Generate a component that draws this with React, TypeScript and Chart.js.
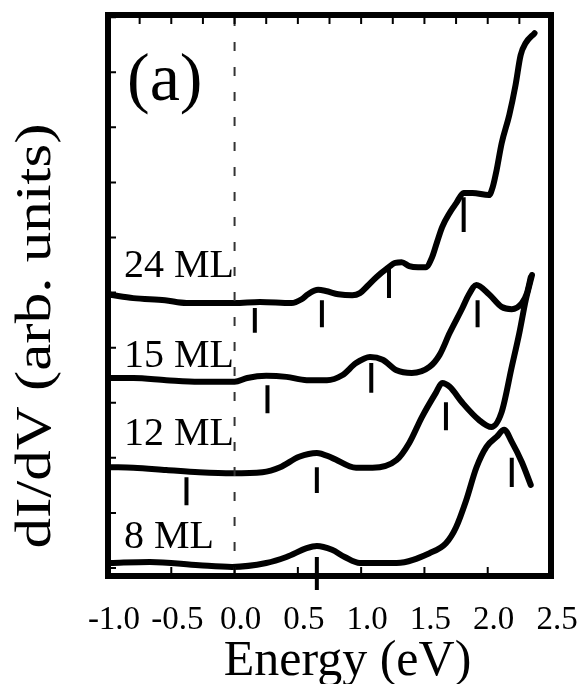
import React, { useEffect, useRef } from 'react';
import { Chart, registerables } from 'chart.js';

Chart.register(...registerables);

const SERIF = "'Liberation Serif', 'Times New Roman', serif";

// Energy axis (eV)
const energyTicks = [-1.0, -0.5, 0.0, 0.5, 1.0, 1.5, 2.0, 2.5];

// Film thickness for each spectrum, top to bottom
const films = ['24 ML', '15 ML', '12 ML', '8 ML'];

// dI/dV spectra, offset vertically: [energy (eV), dI/dV (arb. units)]
const ml24: [number, number][] = [
  [-0.98, 4.96], [-0.8, 4.9], [-0.55, 4.86], [-0.38, 4.81], [0.0, 4.81], [0.2, 4.83],
  [0.45, 4.81], [0.53, 4.88], [0.58, 4.97], [0.66, 5.05], [0.72, 5.03], [0.82, 4.97],
  [0.93, 4.95], [0.99, 4.99], [1.05, 5.12], [1.12, 5.28], [1.2, 5.43], [1.27, 5.54],
  [1.32, 5.55], [1.38, 5.48], [1.45, 5.46], [1.51, 5.46], [1.56, 5.64], [1.6, 5.92],
  [1.64, 6.19], [1.7, 6.45], [1.75, 6.62], [1.81, 6.81], [1.88, 6.81], [2.01, 6.77],
  [2.04, 6.92], [2.07, 7.22], [2.11, 7.71], [2.17, 8.22], [2.22, 8.77], [2.26, 9.31],
  [2.3, 9.53], [2.37, 9.71],
];

const ml15: [number, number][] = [
  [-0.98, 3.45], [-0.8, 3.45], [-0.54, 3.41], [-0.28, 3.38], [0.0, 3.38], [0.1, 3.45],
  [0.25, 3.49], [0.41, 3.47], [0.57, 3.41], [0.73, 3.41], [0.85, 3.5], [0.96, 3.72],
  [1.07, 3.83], [1.17, 3.78], [1.28, 3.59], [1.4, 3.54], [1.54, 3.65], [1.62, 3.87],
  [1.7, 4.27], [1.8, 4.72], [1.85, 4.96], [1.91, 5.14], [2.01, 4.97], [2.11, 4.74],
  [2.19, 4.7], [2.27, 4.81], [2.31, 4.99], [2.34, 5.28],
];

const ml12: [number, number][] = [
  [-0.98, 1.83], [-0.8, 1.82], [-0.54, 1.78], [-0.28, 1.74], [-0.02, 1.72], [0.22, 1.74],
  [0.36, 1.83], [0.51, 2.02], [0.65, 2.09], [0.77, 2.0], [0.96, 1.82], [1.09, 1.82],
  [1.28, 1.96], [1.38, 2.27], [1.48, 2.74], [1.59, 3.18], [1.64, 3.36], [1.7, 3.29],
  [1.8, 3.0], [1.93, 2.69], [2.03, 2.56], [2.11, 2.83], [2.19, 3.65], [2.25, 4.27],
  [2.3, 4.86], [2.35, 5.32],
];

const ml8: [number, number][] = [
  [-0.98, 0.09], [-0.67, 0.11], [-0.28, 0.05], [-0.02, 0.02], [0.25, 0.09], [0.41, 0.2],
  [0.57, 0.36], [0.65, 0.4], [0.77, 0.33], [0.87, 0.2], [0.99, 0.09], [1.28, 0.09],
  [1.54, 0.27], [1.67, 0.45], [1.75, 0.74], [1.83, 1.23], [1.91, 1.82], [1.99, 2.2],
  [2.07, 2.38], [2.13, 2.51], [2.19, 2.29], [2.27, 1.92], [2.34, 1.51],
];

// Peak markers: [energy, upper end, lower end]
const marks24: [number, number, number][] = [
  [0.16, 4.72, 4.27], [0.69, 4.86, 4.37], [1.22, 5.5, 4.9], [1.81, 6.73, 6.1],
];
const marks15: [number, number, number][] = [
  [0.26, 3.32, 2.81], [1.08, 3.72, 3.18], [1.92, 4.86, 4.37],
];
const marks12: [number, number, number][] = [
  [-0.38, 1.65, 1.14], [0.65, 1.83, 1.36], [1.67, 3.01, 2.5],
];
const marks8: [number, number, number][] = [
  [0.65, 0.2, -0.4], [2.19, 2.0, 1.47],
];

const Y_MIN = -0.145;
const Y_MAX = 10.04;

const spectra = [ml24, ml15, ml12, ml8];
const markerSets = [marks24, marks15, marks12, marks8];

const toPoints = (s: [number, number][]) => s.map(([x, y]) => ({ x, y }));
const toMarkerPoints = (m: [number, number, number][]) =>
  m.flatMap(([x, a, b]) => [{ x, y: a }, { x, y: b }, { x, y: null as any }]);

// Frame with inward tick marks on all sides
const framePlugin = {
  id: 'frame',
  afterDatasetsDraw(chart: any) {
    const { ctx, chartArea: a, scales } = chart;
    const x = scales.x;
    const y = scales.y;
    ctx.save();
    ctx.strokeStyle = '#000';
    ctx.lineWidth = 2;
    ctx.beginPath();
    for (let i = 0; i <= 14; i++) {
      const v = -1 + i * 0.25;
      const px = x.getPixelForValue(v);
      ctx.moveTo(px, a.top);
      ctx.lineTo(px, a.top + 9);
      if (i % 2 === 0) {
        ctx.moveTo(px, a.bottom);
        ctx.lineTo(px, a.bottom - 9);
      }
    }
    for (let v = 0; v <= 10; v++) {
      const py = y.getPixelForValue(v);
      ctx.moveTo(a.left, py);
      ctx.lineTo(a.left + 8, py);
    }
    ctx.stroke();
    ctx.lineWidth = 6;
    ctx.lineJoin = 'miter';
    ctx.strokeRect(a.left, a.top, a.right - a.left, a.bottom - a.top);
    ctx.restore();
  },
};

// Panel tag, film labels and axis titles
const labelPlugin = {
  id: 'labels',
  afterDraw(chart: any) {
    const { ctx, chartArea: a, scales } = chart;
    const y = scales.y;
    ctx.save();
    ctx.fillStyle = '#000';
    ctx.textAlign = 'left';
    ctx.textBaseline = 'alphabetic';

    ctx.font = `68px ${SERIF}`;
    ctx.fillText('(a)', a.left + 19, a.top + 85);

    const labelLevels = [5.28, 3.65, 2.23, 0.36];
    ctx.font = `40px ${SERIF}`;
    films.forEach((name, i) => {
      ctx.fillText(name, a.left + 16, y.getPixelForValue(labelLevels[i]));
    });

    ctx.textAlign = 'center';
    ctx.font = `50px ${SERIF}`;
    ctx.fillText('Energy (eV)', (a.left + a.right) / 2 + 18, 675);

    ctx.save();
    ctx.translate(50, 336);
    ctx.rotate(-Math.PI / 2);
    ctx.scale(1.22, 1);
    ctx.font = `50px ${SERIF}`;
    ctx.fillText('dI/dV (arb. units)', 0, 0);
    ctx.restore();

    ctx.restore();
  },
};

export default function App() {
  const canvasRef = useRef<HTMLCanvasElement | null>(null);

  useEffect(() => {
    const canvas = canvasRef.current;
    if (!canvas) return;

    const curveSets = spectra.map((s, i) => ({
      label: films[i],
      data: toPoints(s),
      showLine: true,
      borderColor: '#000',
      borderWidth: 6,
      pointRadius: 0,
      cubicInterpolationMode: 'monotone' as const,
      borderCapStyle: 'round' as const,
      borderJoinStyle: 'round' as const,
    }));

    const markerDatasets = markerSets.map((m, i) => ({
      label: `${films[i]} peaks`,
      data: toMarkerPoints(m),
      showLine: true,
      spanGaps: false,
      borderColor: '#000',
      borderWidth: 4,
      pointRadius: 0,
      tension: 0,
      clip: false as const,
    }));

    const zeroLine = {
      label: 'E_F',
      data: [{ x: 0, y: Y_MIN }, { x: 0, y: Y_MAX }],
      showLine: true,
      borderColor: '#333',
      borderWidth: 2,
      borderDash: [9, 16],
      pointRadius: 0,
      tension: 0,
    };

    const chart = new Chart(canvas, {
      type: 'scatter',
      data: { datasets: [zeroLine, ...curveSets, ...markerDatasets] as any },
      options: {
        animation: false,
        responsive: false,
        events: [],
        layout: { padding: { left: 0, top: 15, right: 26, bottom: 0 } },
        plugins: { legend: { display: false }, tooltip: { enabled: false } },
        scales: {
          x: {
            type: 'linear',
            min: -1,
            max: 2.5,
            afterBuildTicks: (s: any) => {
              s.ticks = energyTicks.map((v) => ({ value: v }));
            },
            afterFit: (s: any) => {
              s.height = 108;
              s.paddingLeft = 0;
              s.paddingRight = 0;
            },
            grid: { display: false },
            border: { display: false },
            ticks: {
              autoSkip: false,
              maxRotation: 0,
              minRotation: 0,
              padding: 17,
              labelOffset: 6,
              color: '#000',
              font: { family: SERIF, size: 33 },
              callback: (v: any) => Number(v).toFixed(1),
            },
          },
          y: {
            type: 'linear',
            min: Y_MIN,
            max: Y_MAX,
            afterFit: (s: any) => {
              s.width = 108;
              s.paddingTop = 0;
              s.paddingBottom = 0;
            },
            grid: { display: false },
            border: { display: false },
            ticks: { display: false },
          },
        },
      },
      plugins: [framePlugin, labelPlugin],
    });

    return () => chart.destroy();
  }, []);

  return (
    <div style={{ position: 'fixed', left: 0, top: 0, width: 577, height: 684, background: '#fff' }}>
      <canvas ref={canvasRef} width={577} height={684} style={{ display: 'block', width: 577, height: 684 }} />
    </div>
  );
}
